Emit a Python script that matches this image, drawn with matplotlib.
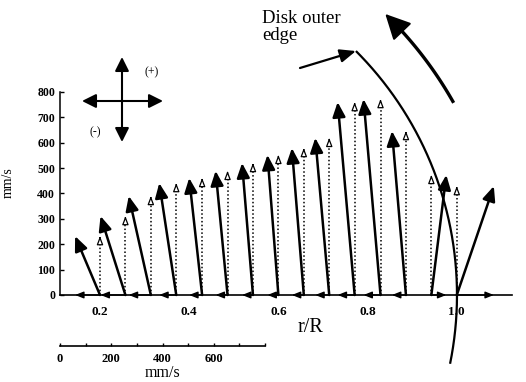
import numpy as np
import matplotlib
matplotlib.use("Agg")
import matplotlib.pyplot as plt

plt.rcParams['font.family'] = ['Liberation Serif', 'DejaVu Serif']

r_pos = [0.2, 0.257, 0.314, 0.371, 0.429, 0.486, 0.543, 0.6,
         0.657, 0.714, 0.771, 0.829, 0.886, 0.943, 1.0]
u_rad = [-98, -98, -87, -67, -51, -47, -43, -43, -47, -55, -67, -67, -55, 59, 146]
v_ax = [232, 311, 390, 441, 461, 489, 520, 552, 579, 619, 760, 772, 646, 473, 429]

y_ticks = [0, 100, 200, 300, 400, 500, 600, 700, 800]
x_ticks = [0.2, 0.4, 0.6, 0.8, 1.0]
x_ticklabels = ['0.2', '0.4', '0.6', '0.8', '1.0']
scale_ticks = [0, 100, 200, 300, 400, 500, 600, 700, 800]
scale_labels = ['0', '', '200', '', '400', '', '600', '', '']

W, H = 526, 382
fig = plt.figure(figsize=(W / 100, H / 100), dpi=100)
ax = fig.add_axes([0, 0, 1, 1])
ax.set_xlim(-0.0242, 1.1552)
ax.set_ylim(-342.8, 1162.3)
ax.patch.set_alpha(0)

x0 = 0.1103
ax.spines['top'].set_visible(False)
ax.spines['right'].set_visible(False)
ax.spines['left'].set_position(('data', x0))
ax.spines['left'].set_bounds(0, 800)
ax.spines['bottom'].set_position(('data', 0))
ax.spines['bottom'].set_bounds(x0, 1.124)
ax.spines['left'].set_linewidth(1.1)
ax.spines['bottom'].set_linewidth(1.2)

ax.set_yticks(y_ticks)
ax.set_yticklabels([str(t) for t in y_ticks], fontweight='bold')
ax.set_xticks(x_ticks)
ax.set_xticklabels(x_ticklabels, fontweight='bold')
ax.tick_params(axis='y', direction='in', length=3, width=1, labelsize=8.5, pad=3.5)
ax.tick_params(axis='x', length=0, labelsize=9.5, pad=8)

ax.set_ylabel('mm/s', fontsize=10)
ax.yaxis.set_label_coords(15 / W, 1 - 183 / H)
ax.set_xlabel('r/R', fontsize=14.5)
ax.xaxis.set_label_coords(310 / W, 1 - 318 / H)

# isotropic arrows: r/R per mm/s
p0 = ax.transData.transform((0, 0))
p1 = ax.transData.transform((1, 1))
k = (p1[1] - p0[1]) / (p1[0] - p0[0])

for r, u, v in zip(r_pos, u_rad, v_ax):
    # vertical component, dotted
    ax.plot([r, r], [0, v - 12], ls=(0, (1, 1.5)), lw=1.1, color='black')
    ax.annotate('', xy=(r, v), xytext=(r, v - 12),
                arrowprops=dict(arrowstyle='-|>,head_length=0.45,head_width=0.17',
                                mutation_scale=11, lw=0.9, fc='white', ec='black',
                                shrinkA=0, shrinkB=0))
    # full vector
    ax.annotate('', xy=(r + u * k, v), xytext=(r, 0),
                arrowprops=dict(arrowstyle='-|>,head_length=0.55,head_width=0.24',
                                mutation_scale=16, lw=1.8, color='black',
                                shrinkA=0, shrinkB=0))
    # radial component along the axis
    ax.annotate('', xy=(r + u * k, 0), xytext=(r, 0),
                arrowprops=dict(arrowstyle='-|>,head_length=0.5,head_width=0.2',
                                mutation_scale=10, lw=1.0, color='black',
                                shrinkA=0, shrinkB=0))

# disk outer edge, circle about a point on the axis
rc = 0.2269
Rr, Rv = 345 / (p1[0] - p0[0]), 345 / (p1[1] - p0[1])
t = np.radians(np.linspace(-11.5, 45, 200))
ax.plot(rc + Rr * np.cos(t), Rv * np.sin(t), color='black', lw=1.6,
        solid_capstyle='butt')

# rotation arrow
Rr2, Rv2 = 392 / (p1[0] - p0[0]), 392 / (p1[1] - p0[1])
t2 = np.radians(np.linspace(29.6, 42.5, 80))
ax.plot(rc + Rr2 * np.cos(t2), Rv2 * np.sin(t2), color='black', lw=2.4)
a1, a2 = np.radians(42.0), np.radians(45.8)
ax.annotate('', xy=(rc + Rr2 * np.cos(a2), Rv2 * np.sin(a2)),
            xytext=(rc + Rr2 * np.cos(a1), Rv2 * np.sin(a1)),
            arrowprops=dict(arrowstyle='-|>,head_length=0.6,head_width=0.3',
                            mutation_scale=26, lw=1.5, color='black',
                            shrinkA=0, shrinkB=0))

# label for disk edge
top = (rc + Rr * np.cos(np.radians(45)), Rv * np.sin(np.radians(45)))
ax.annotate('', xy=top, xytext=(300, H - 68), textcoords='figure pixels',
            arrowprops=dict(arrowstyle='-|>,head_length=0.6,head_width=0.25',
                            mutation_scale=16, lw=1.6, color='black',
                            shrinkA=0, shrinkB=0))
fig.text(262 / W, 1 - 10 / H, 'Disk outer\nedge', fontsize=13.5, ha='left', va='top',
         linespacing=1.0)

# sign convention cross
ax.annotate('', xy=(122, H - 57), xytext=(122, H - 142), xycoords='figure pixels',
            textcoords='figure pixels',
            arrowprops=dict(arrowstyle='<|-|>,head_length=0.6,head_width=0.3',
                            mutation_scale=14, lw=1.5, color='black',
                            shrinkA=0, shrinkB=0))
ax.annotate('', xy=(163, H - 101), xytext=(82, H - 101), xycoords='figure pixels',
            textcoords='figure pixels',
            arrowprops=dict(arrowstyle='<|-|>,head_length=0.6,head_width=0.3',
                            mutation_scale=14, lw=1.5, color='black',
                            shrinkA=0, shrinkB=0))
fig.text(152 / W, 1 - 72 / H, '(+)', fontsize=8.5, ha='center', va='center')
fig.text(95 / W, 1 - 132 / H, '(-)', fontsize=8.5, ha='center', va='center')

# velocity scale bar
sax = fig.add_axes([60 / W, (H - 346) / H, 205 / W, 0.0001])
sax.set_xlim(0, 800)
sax.set_yticks([])
for s in ['top', 'left', 'right']:
    sax.spines[s].set_visible(False)
sax.spines['bottom'].set_linewidth(1.2)
sax.set_xticks(scale_ticks)
sax.set_xticklabels(scale_labels, fontweight='bold')
sax.tick_params(axis='x', direction='in', length=2.5, width=1, labelsize=9, pad=5)
sax.set_xlabel('mm/s', fontsize=11.5, labelpad=0)
sax.patch.set_alpha(0)

fig.savefig('out.png', dpi=100)
